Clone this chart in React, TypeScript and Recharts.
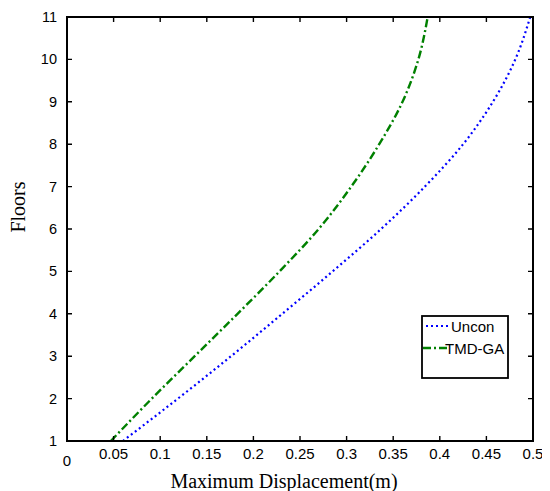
import { LineChart, Line, XAxis, YAxis, Legend } from "recharts";

// floors and the max displacement (m)
const FLOORS = [1, 2, 3, 4, 5, 6, 7, 8, 9, 10, 11];
const UNCON = [0.06, 0.119, 0.176, 0.231, 0.285, 0.337, 0.384, 0.425, 0.457, 0.481, 0.497];
const TMD_GA = [0.047, 0.091, 0.137, 0.183, 0.228, 0.27, 0.305, 0.335, 0.36, 0.377, 0.387];

const X_TICKS = [0, 0.05, 0.1, 0.15, 0.2, 0.25, 0.3, 0.35, 0.4, 0.45, 0.5];
const Y_TICKS = [1, 2, 3, 4, 5, 6, 7, 8, 9, 10, 11];
const X_DOMAIN = [0, 0.5];
const Y_DOMAIN = [1, 11];

const SERIES = [
  { key: "uncon", name: "Uncon", color: "#0000FF", dash: "2 3", width: 2.2 },
  { key: "tmd", name: "TMD-GA", color: "#008000", dash: "8 3 2 3", width: 2.4 },
];

const data = FLOORS.map((f, i) => ({ floor: f, uncon: UNCON[i], tmd: TMD_GA[i] }));

const W = 542;
const H = 483;
const MARGIN = { top: 9, right: 17, left: 0, bottom: 0 };
const YAXIS_W = 59;
const XAXIS_H = 50;

// plot area implied by the layout above
const PX = MARGIN.left + YAXIS_W;
const PY = MARGIN.top;
const PW = W - MARGIN.left - MARGIN.right - YAXIS_W;
const PH = H - MARGIN.top - MARGIN.bottom - XAXIS_H;

const SANS = "Arial, 'Liberation Sans', sans-serif";
const SERIF = "'Times New Roman', 'Liberation Serif', serif";
const TICK = 5;

const BottomTick = (props: any) => {
  const { x, y, payload } = props;
  const v = payload.value;
  return (
    <text x={x} y={y + (v === 0 ? 25 : 18)} textAnchor="middle" fontSize={15} fontFamily={SANS} fill="#000">
      {String(v)}
    </text>
  );
};

const LeftTick = (props: any) => {
  const { x, y, payload } = props;
  return (
    <text x={x - 10} y={y + 5} textAnchor="end" fontSize={14.5} fontFamily={SANS} fill="#000">
      {payload.value}
    </text>
  );
};

// box round the plot with inward ticks on all four sides
const Frame = () => {
  const sx = (v: number) => PX + ((v - X_DOMAIN[0]) / (X_DOMAIN[1] - X_DOMAIN[0])) * PW;
  const sy = (v: number) => PY + PH - ((v - Y_DOMAIN[0]) / (Y_DOMAIN[1] - Y_DOMAIN[0])) * PH;
  let d = "";
  X_TICKS.forEach((v) => {
    const x = sx(v);
    d += `M${x},${PY}V${PY + TICK}M${x},${PY + PH}V${PY + PH - TICK}`;
  });
  Y_TICKS.forEach((v) => {
    const y = sy(v);
    d += `M${PX},${y}H${PX + TICK}M${PX + PW},${y}H${PX + PW - TICK}`;
  });
  return (
    <g>
      <rect x={PX} y={PY} width={PW} height={PH} fill="none" stroke="#000" strokeWidth={2} />
      <path d={d} fill="none" stroke="#000" strokeWidth={1.4} />
    </g>
  );
};

const LegendBox = () => (
  <svg width={88} height={64} style={{ display: "block", overflow: "visible" }}>
    <rect x={1} y={1} width={86} height={62} fill="#fff" stroke="#000" strokeWidth={1.8} />
    {SERIES.map((s, i) => {
      const ly = 11 + i * 22;
      return (
        <g key={s.key}>
          <line
            x1={i === 0 ? 5 : 2}
            x2={i === 0 ? 30 : 27}
            y1={ly}
            y2={ly}
            stroke={s.color}
            strokeWidth={s.width}
            strokeDasharray={s.dash}
          />
          <text x={i === 0 ? 30 : 24} y={ly + 6} fontSize={15} fontFamily={SANS} fill="#000">
            {s.name}
          </text>
        </g>
      );
    })}
  </svg>
);

export default function App() {
  return (
    <div style={{ position: "relative", width: W, height: H }}>
      <LineChart width={W} height={H} data={data} layout="vertical" margin={MARGIN}>
        <XAxis
          type="number"
          dataKey="uncon"
          domain={X_DOMAIN}
          ticks={X_TICKS}
          height={XAXIS_H}
          tickSize={0}
          tickMargin={0}
          tickLine={false}
          tick={<BottomTick />}
          axisLine={{ stroke: "#000", strokeWidth: 1.8 }}
          allowDataOverflow
        />
        <YAxis
          type="number"
          dataKey="floor"
          domain={Y_DOMAIN}
          ticks={Y_TICKS}
          reversed
          width={YAXIS_W}
          tickSize={0}
          tickMargin={0}
          tickLine={false}
          tick={<LeftTick />}
          axisLine={{ stroke: "#000", strokeWidth: 1.8 }}
        />
        {SERIES.map((s) => (
          <Line
            key={s.key}
            dataKey={s.key}
            name={s.name}
            type="monotone"
            stroke={s.color}
            strokeWidth={s.width}
            strokeDasharray={s.dash}
            dot={false}
            activeDot={false}
            isAnimationActive={false}
          />
        ))}
        <Legend
          layout="horizontal"
          verticalAlign="middle"
          content={<LegendBox />}
          wrapperStyle={{ left: 413, top: 307, width: 88, height: 64 }}
        />
      </LineChart>
      <svg
        width={W}
        height={H}
        style={{ position: "absolute", left: 0, top: 0, pointerEvents: "none", overflow: "visible" }}
      >
        <Frame />
        <text x={276} y={480} textAnchor="middle" fontSize={20} fontFamily={SERIF} fill="#000">
          Maximum Displacement(m)
        </text>
        <text
          transform="translate(17,199) rotate(-90)"
          textAnchor="middle"
          fontSize={20}
          fontFamily={SERIF}
          fill="#000"
        >
          Floors
        </text>
      </svg>
    </div>
  );
}
